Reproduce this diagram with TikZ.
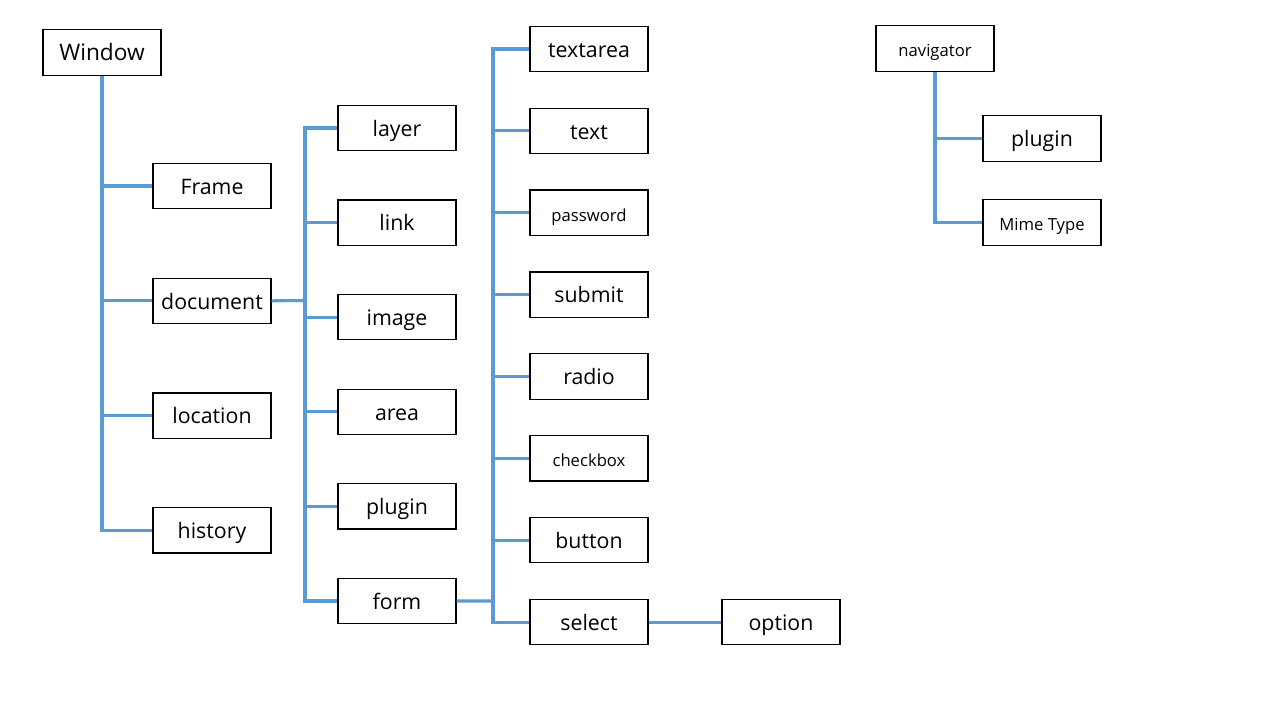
\documentclass[tikz,border=0pt]{standalone}
\usepackage{fontspec}
\setmainfont{Open Sans}
\usetikzlibrary{positioning}
\definecolor{tieblue}{RGB}{91,155,213}

\begin{document}
\begin{tikzpicture}[
		x=0.75pt, y=-0.75pt,
		obj/.style = {draw, line width=0.9pt, fill=white, minimum width=88.5pt, minimum height=34pt, inner sep=0pt, text height=14pt, text depth=1.6pt, font=\fontsize{16}{18}\selectfont},
		small/.style = {font=\fontsize{12.5}{15}\selectfont},
		big/.style = {font=\fontsize{17}{19}\selectfont},
		tie/.style = {draw=tieblue, line width=2.3pt}
	]
	\useasboundingbox[fill=white] (0,0) rectangle (1274,715);
	% window and its children
	\node[obj, big] (win) at (102,52.5) {Window};
	\node[obj] (frame) at (212,186) {Frame};
	\node[obj] (doc) [below of=frame, node distance=86.1pt] {document};
	\node[obj] (loc) [below of=doc, node distance=86.1pt] {location};
	\node[obj] (hist) [below of=loc, node distance=86.1pt] {history};
	% document
	\node[obj] (layer) at (397,128) {layer};
	\node[obj] (link) [below of=layer, node distance=70.95pt] {link};
	\node[obj] (image) [below of=link, node distance=70.95pt] {image};
	\node[obj] (area) [below of=image, node distance=70.95pt] {area};
	\node[obj] (dplug) [below of=area, node distance=70.95pt] {plugin};
	\node[obj] (form) [below of=dplug, node distance=70.95pt] {form};
	% form
	\node[obj] (tarea) at (589,49) {textarea};
	\node[obj] (text) [below of=tarea, node distance=61.4pt] {text};
	\node[obj, small] (pass) [below of=text, node distance=61.4pt] {password};
	\node[obj] (submit) [below of=pass, node distance=61.4pt] {submit};
	\node[obj] (radio) [below of=submit, node distance=61.4pt] {radio};
	\node[obj, small] (check) [below of=radio, node distance=61.4pt] {checkbox};
	\node[obj] (button) [below of=check, node distance=61.4pt] {button};
	\node[obj] (select) [below of=button, node distance=61.4pt] {select};
	\node[obj] (option) [right of=select, node distance=144pt] {option};
	% navigator
	\node[obj, small] (nav) at (935,48.5) {navigator};
	\node[obj] (nplug) at (1042,138.5) {plugin};
	\node[obj, small] (mime) [below of=nplug, node distance=63pt] {Mime Type};
	\coordinate (docbus) at (305,300.5);
	\coordinate (formbus) at (493,601);
	\draw[tie] (win.south) |- (frame.west);
	\draw[tie] (win.south) |- (doc.west);
	\draw[tie] (win.south) |- (loc.west);
	\draw[tie] (win.south) |- (hist.west);
	\draw[tie] (doc.east) -- (docbus);
	\draw[tie] (docbus) |- (layer.west);
	\draw[tie] (docbus) |- (link.west);
	\draw[tie] (docbus) |- (image.west);
	\draw[tie] (docbus) |- (area.west);
	\draw[tie] (docbus) |- (dplug.west);
	\draw[tie] (docbus) |- (form.west);
	\draw[tie] (form.east) -- (formbus);
	\draw[tie] (formbus) |- (tarea.west);
	\draw[tie] (formbus) |- (text.west);
	\draw[tie] (formbus) |- (pass.west);
	\draw[tie] (formbus) |- (submit.west);
	\draw[tie] (formbus) |- (radio.west);
	\draw[tie] (formbus) |- (check.west);
	\draw[tie] (formbus) |- (button.west);
	\draw[tie] (formbus) |- (select.west);
	\draw[tie] (select) -- (option);
	\draw[tie] (nav.south) |- (nplug.west);
	\draw[tie] (nav.south) |- (mime.west);
\end{tikzpicture}
\end{document}
